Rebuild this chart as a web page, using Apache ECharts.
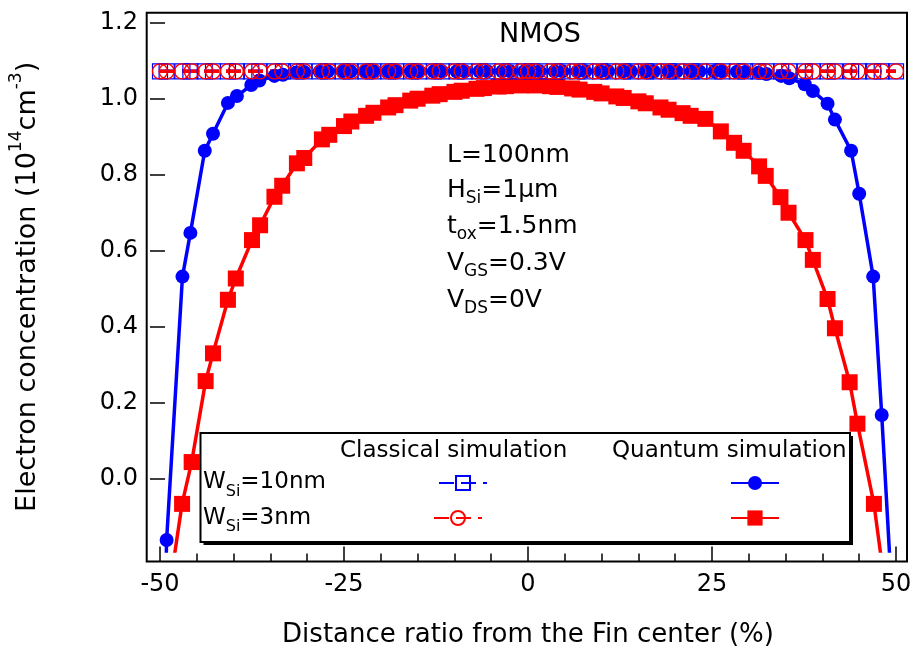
<!DOCTYPE html>
<html>
<head>
<meta charset="utf-8">
<script src="https://cdn.jsdelivr.net/npm/echarts@6/dist/echarts.min.js"></script>
<style>html,body{margin:0;padding:0;background:#fff}#c{width:916px;height:659px}</style>
</head>
<body>
<div id="c"></div>
<script>
// ---------------- data ----------------
const xTicks = [-50, -25, 0, 25, 50];
const yTicks = [0, 0.2, 0.4, 0.6, 0.8, 1.0, 1.2];

// W_Si = 10 nm mesh (quantum + classical)
const xW10 = [-50.0, -49.1, -46.95, -45.87, -43.92, -42.8, -40.77, -39.55, -37.6, -36.5, -34.45, -33.3, -31.5, -30.4,
  -28.3, -27.2, -25.2, -24.1, -22.1, -21.0, -19.0, -17.9, -15.9, -14.8, -12.8, -11.7, -9.7, -8.6, -6.6, -5.5, -3.5, -2.4,
  -0.5, 0.5, 1.6, 3.6, 4.7, 6.7, 7.8, 9.8, 10.9, 12.9, 14.0, 16.0, 17.1, 19.1, 20.2, 22.2, 23.3, 25.3, 26.4,
  28.4, 29.5, 31.3, 32.4, 34.4, 35.5, 37.6, 38.7, 40.7, 41.7, 43.9, 45.0, 46.9, 48.06, 50.0];
const yW10Quantum = [-0.9, -0.161, 0.532, 0.647, 0.863, 0.908, 0.989, 1.007, 1.036, 1.048, 1.060, 1.063, 1.069, 1.070,
  1.071, 1.072, 1.072, 1.072, 1.072, 1.072, 1.072, 1.072, 1.072, 1.072, 1.072, 1.072, 1.072, 1.072, 1.072, 1.072, 1.072, 1.072,
  1.072, 1.072, 1.072, 1.072, 1.072, 1.072, 1.072, 1.072, 1.072, 1.072, 1.072, 1.072, 1.072, 1.072, 1.072, 1.072, 1.072, 1.072, 1.072,
  1.071, 1.070, 1.068, 1.065, 1.060, 1.054, 1.038, 1.020, 0.987, 0.945, 0.863, 0.750, 0.532, 0.168, -0.5];
const yW10Classical = [1.072, 1.072, 1.072, 1.072, 1.072, 1.072, 1.072, 1.072, 1.072, 1.072, 1.072, 1.072, 1.072, 1.072,
  1.072, 1.072, 1.072, 1.072, 1.072, 1.072, 1.072, 1.072, 1.072, 1.072, 1.072, 1.072, 1.072, 1.072, 1.072, 1.072, 1.072, 1.072,
  1.072, 1.072, 1.072, 1.072, 1.072, 1.072, 1.072, 1.072, 1.072, 1.072, 1.072, 1.072, 1.072, 1.072, 1.072, 1.072, 1.072, 1.072, 1.072,
  1.072, 1.072, 1.072, 1.072, 1.072, 1.072, 1.072, 1.072, 1.072, 1.072, 1.072, 1.072, 1.072, 1.072, 1.072];

// W_Si = 3 nm
const xW3Quantum = [-49.1, -47.0, -45.7, -43.8, -42.8, -40.77, -39.7, -37.5, -36.4, -34.45, -33.4, -31.4, -30.4,
  -28.0, -27.0, -25.0, -24.0, -22.0, -21.0, -19.0, -18.0, -16.0, -15.0, -13.0, -12.0, -10.0, -9.0, -7.0, -6.0, -4.0, -3.0,
  -1.0, 0.0, 1.0, 3.0, 4.0, 6.0, 7.0, 9.0, 10.0, 12.0, 13.0, 15.0, 16.0, 18.0, 19.1, 21.0, 22.1, 24.1, 26.2,
  28.0, 29.3, 31.4, 32.3, 34.3, 35.4, 37.7, 38.7, 40.7, 41.7, 43.7, 44.76, 47.0, 48.1];
const yW3Quantum = [-0.34, -0.066, 0.044, 0.257, 0.330, 0.471, 0.527, 0.628, 0.667, 0.742, 0.771, 0.830, 0.844,
  0.893, 0.905, 0.928, 0.940, 0.955, 0.963, 0.977, 0.983, 0.995, 1.000, 1.008, 1.012, 1.018, 1.021, 1.026, 1.028, 1.032, 1.033,
  1.035, 1.036, 1.035, 1.033, 1.031, 1.027, 1.024, 1.018, 1.014, 1.006, 1.002, 0.993, 0.988, 0.977, 0.971, 0.962, 0.955, 0.947, 0.914,
  0.884, 0.863, 0.822, 0.797, 0.741, 0.700, 0.628, 0.576, 0.473, 0.396, 0.254, 0.145, -0.066, -0.225];
const xW3Classical = [-50.0, -49.1, -47.0, -45.7, -43.8, -42.8, -40.77, -39.7, -37.5, -36.4, -34.45, -33.4, -31.4, -30.4,
  -28.0, -27.0, -25.0, -24.0, -22.0, -21.0, -19.0, -18.0, -16.0, -15.0, -13.0, -12.0, -10.0, -9.0, -7.0, -6.0, -4.0, -3.0,
  -1.0, 0.0, 1.0, 3.0, 4.0, 6.0, 7.0, 9.0, 10.0, 12.0, 13.0, 15.0, 16.0, 18.0, 19.1, 21.0, 22.1, 24.1, 26.2,
  28.0, 29.3, 31.4, 32.3, 34.3, 35.4, 37.7, 38.7, 40.7, 41.7, 43.7, 44.76, 47.0, 48.1, 50.0];
const yW3Classical = [1.072, 1.072, 1.072, 1.072, 1.072, 1.072, 1.072, 1.072, 1.072, 1.072, 1.072, 1.072, 1.072, 1.072,
  1.072, 1.072, 1.072, 1.072, 1.072, 1.072, 1.072, 1.072, 1.072, 1.072, 1.072, 1.072, 1.072, 1.072, 1.072, 1.072, 1.072, 1.072,
  1.072, 1.072, 1.072, 1.072, 1.072, 1.072, 1.072, 1.072, 1.072, 1.072, 1.072, 1.072, 1.072, 1.072, 1.072, 1.072, 1.072, 1.072, 1.072,
  1.072, 1.072, 1.072, 1.072, 1.072, 1.072, 1.072, 1.072, 1.072, 1.072, 1.072, 1.072, 1.072, 1.072, 1.072];

const seriesNames = ['Quantum W10', 'Quantum W3', 'Classical W10', 'Classical W3'];

// ---------------- chart ----------------
const FONT = 'DejaVu Sans';
const BLUE = '#0000ff', RED = '#ff0000';
const DASH = [15, 7];
const zip = (xs, ys) => xs.map((x, i) => [x, ys[i]]);
const chart = echarts.init(document.getElementById('c'), null, { renderer: 'canvas' });

const tickStyle = { color: '#000', width: 1.5 };
const labelRich = {
  m: { fontSize: 23, lineHeight: 34, fontFamily: FONT, color: '#000' },
  s: { fontSize: 16, lineHeight: 16, verticalAlign: 'bottom', fontFamily: FONT, color: '#000' }
};
const annRich = {
  m: { fontSize: 25, lineHeight: 34, fontFamily: FONT, color: '#000' },
  s: { fontSize: 17, lineHeight: 17, verticalAlign: 'bottom', fontFamily: FONT, color: '#000' }
};
function richText(x, y, text, rich) {
  return { type: 'text', x: x, y: y, z: 20,
    style: { text: text, rich: rich, fontFamily: FONT, fill: '#000', textAlign: 'left', verticalAlign: 'middle' } };
}
function plainText(x, y, text, size, align) {
  return { type: 'text', x: x, y: y, z: 20,
    style: { text: text, fontFamily: FONT, fontSize: size, fill: '#000', textAlign: align || 'left', verticalAlign: 'middle' } };
}
function legendAt(name, left, centerY, h) {
  return { show: true, data: [name], left: left, top: centerY - h / 2, itemWidth: 48, itemHeight: h,
    padding: 0, selectedMode: false, formatter: () => '', textStyle: { fontSize: 1 }, z: 30 };
}

const option = {
  animation: false,
  backgroundColor: '#fff',
  grid: [
    { left: 156.7, right: 20, top: 22.7, bottom: 108 },
    { left: 146.7, right: 9, top: 12.7, bottom: 97.5, show: true, borderColor: '#000', borderWidth: 2, backgroundColor: 'rgba(0,0,0,0)' }
  ],
  xAxis: [
    { type: 'value', gridIndex: 0, min: -50, max: 50, interval: 25, offset: 10.5,
      axisLine: { show: false, onZero: false },
      axisTick: { show: true, inside: true, length: 15, lineStyle: tickStyle },
      minorTick: { show: true, splitNumber: 5, length: 8, lineStyle: tickStyle },
      splitLine: { show: false }, minorSplitLine: { show: false },
      axisLabel: { customValues: xTicks, margin: 11, fontSize: 24, fontFamily: FONT, color: '#000' },
      name: 'Distance ratio from the Fin center (%)', nameLocation: 'middle', nameGap: 61,
      nameTextStyle: { fontSize: 26, fontFamily: FONT, color: '#000' } },
    { type: 'value', gridIndex: 1, min: 0, max: 1, show: false }
  ],
  yAxis: [
    { type: 'value', gridIndex: 0, min: -0.19, max: 1.2, offset: 10,
      axisLine: { show: false, onZero: false },
      axisTick: { show: true, inside: true, length: 15, customValues: yTicks, lineStyle: tickStyle },
      axisLabel: { customValues: yTicks, formatter: v => v.toFixed(1), margin: 12, fontSize: 24, fontFamily: FONT, color: '#000' },
      splitLine: { show: false },
      name: '{m|Electron concentration (10}{s|14}{m|cm}{s|-3}{m|)}', nameLocation: 'middle', nameGap: 102,
      nameTextStyle: { fontFamily: FONT, color: '#000', rich: {
        m: { fontSize: 27, lineHeight: 40, fontFamily: FONT, color: '#000' },
        s: { fontSize: 17, lineHeight: 12, verticalAlign: 'top', fontFamily: FONT, color: '#000' } } } },
    { type: 'value', gridIndex: 1, min: 0, max: 1, show: false }
  ],
  legend: [
    legendAt(seriesNames[2], 438, 483, 17.5),
    legendAt(seriesNames[3], 433, 518, 17.5),
    legendAt(seriesNames[0], 730, 483, 17.5),
    legendAt(seriesNames[1], 730, 518, 19)
  ],
  series: [
    { name: seriesNames[0], type: 'line', xAxisIndex: 0, yAxisIndex: 0, data: zip(xW10, yW10Quantum),
      symbol: 'circle', symbolSize: 14, showAllSymbol: true, clip: true,
      itemStyle: { color: BLUE }, lineStyle: { color: BLUE, width: 3.5 }, emphasis: { disabled: true }, z: 2 },
    { name: seriesNames[1], type: 'line', xAxisIndex: 0, yAxisIndex: 0, data: zip(xW3Quantum, yW3Quantum),
      symbol: 'rect', symbolSize: 16, showAllSymbol: true, clip: true,
      itemStyle: { color: RED }, lineStyle: { color: RED, width: 3.5 }, emphasis: { disabled: true }, z: 2 },
    { name: seriesNames[2], type: 'line', xAxisIndex: 0, yAxisIndex: 0, data: zip(xW10, yW10Classical),
      symbol: 'rect', symbolSize: 15, showAllSymbol: true, clip: true,
      itemStyle: { color: 'rgba(0,0,0,0)', borderColor: BLUE, borderWidth: 1.2 },
      lineStyle: { color: BLUE, width: 3.5, type: DASH }, emphasis: { disabled: true }, z: 2 },
    { name: seriesNames[3], type: 'line', xAxisIndex: 0, yAxisIndex: 0, data: zip(xW3Classical, yW3Classical),
      symbol: 'circle', symbolSize: 15, showAllSymbol: true, clip: true,
      itemStyle: { color: 'rgba(0,0,0,0)', borderColor: RED, borderWidth: 1.4 },
      lineStyle: { color: RED, width: 3.5, type: DASH }, emphasis: { disabled: true }, z: 2 }
  ],
  graphic: { elements: [
    plainText(540, 35, 'NMOS', 27, 'center'),
    plainText(447, 155, 'L=100nm', 25),
    richText(447, 190, '{m|H}{s|Si}{m|=1μm}', annRich),
    richText(447, 226, '{m|t}{s|ox}{m|=1.5nm}', annRich),
    richText(447, 263, '{m|V}{s|GS}{m|=0.3V}', annRich),
    richText(447, 300, '{m|V}{s|DS}{m|=0V}', annRich),
    { type: 'rect', z: 14, shape: { x: 203.5, y: 436, width: 649.5, height: 109 }, style: { fill: '#000' } },
    { type: 'rect', z: 15, shape: { x: 200.5, y: 433, width: 649.5, height: 109 }, style: { fill: '#fff', stroke: '#000', lineWidth: 2 } },
    plainText(340, 451, 'Classical simulation', 23),
    plainText(612, 451, 'Quantum simulation', 23),
    richText(203, 482.5, '{m|W}{s|Si}{m|=10nm}', labelRich),
    richText(203, 518, '{m|W}{s|Si}{m|=3nm}', labelRich)
  ] }
};
chart.setOption(option);
</script>
</body>
</html>
